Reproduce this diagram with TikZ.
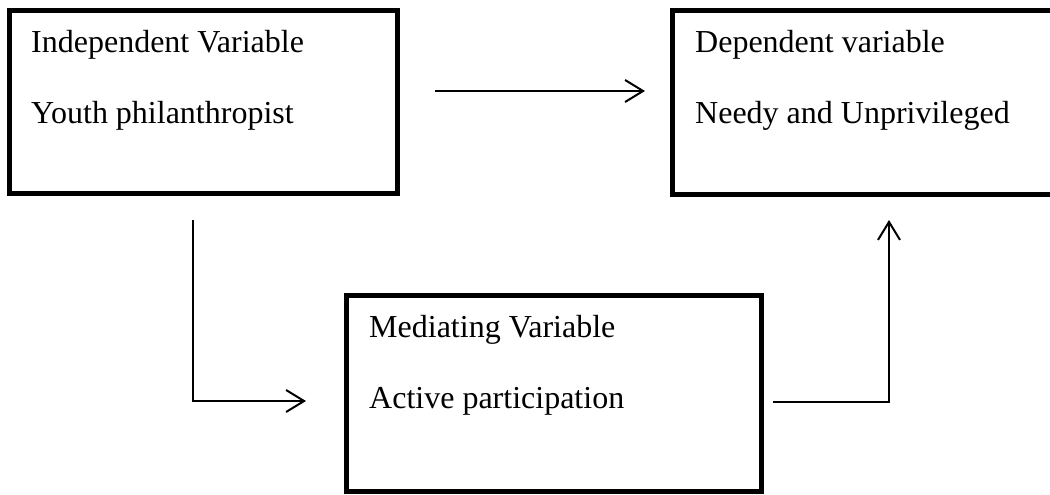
\documentclass[tikz,border=0pt]{standalone}
\usepackage{fontspec}
\setmainfont{Liberation Serif}
\usetikzlibrary{arrows.meta}
\begin{document}
\begin{tikzpicture}[x=1pt,y=-1pt,
  box/.style={draw, line width=5pt, inner sep=0pt, outer sep=0pt, anchor=north west, rectangle},
  lbl/.style={anchor=base west, inner sep=0pt, font=\fontsize{32}{38}\selectfont},
  conn/.style={line width=2pt},
  arr/.style={conn, -{Straight Barb[length=18pt,width=22pt]}}]
\useasboundingbox (0,0) rectangle (1050,495);
\clip (0,0) rectangle (1050,495);
% boxes
\node[box, minimum width=388pt, minimum height=183pt] (iv) at (9.5,10.5) {};
\node[box, minimum width=387.5pt, minimum height=184pt] (dv) at (672.5,10.5) {};
\node[box, minimum width=415pt, minimum height=195.5pt] (mv) at (346.5,295.5) {};
% texts
\node[lbl] (ivt1) at (31,53) {Independent Variable};
\node[lbl] (ivt2) at (31,123) {Youth philanthropist};
\node[lbl] (dvt1) at (695,53) {Dependent variable};
\node[lbl] (dvt2) at (695,123) {Needy and Unprivileged};
\node[lbl] (mvt1) at (369,337) {Mediating Variable};
\node[lbl] (mvt2) at (369,408) {Active participation};
% connector points
\coordinate (a1s) at (435,91);
\coordinate (a1e) at (645,91);
\coordinate (a2s) at (193,220);
\coordinate (a2c) at (193,401);
\coordinate (a2e) at (306,401);
\coordinate (a3s) at (773,402);
\coordinate (a3c) at (889,402);
\coordinate (a3e) at (889,220);
% connectors
\draw[arr] (a1s) -- (a1e);
\draw[arr] (a2s) -- (a2c) -- (a2e);
\draw[arr] (a3s) -- (a3c) -- (a3e);
\end{tikzpicture}
\end{document}
